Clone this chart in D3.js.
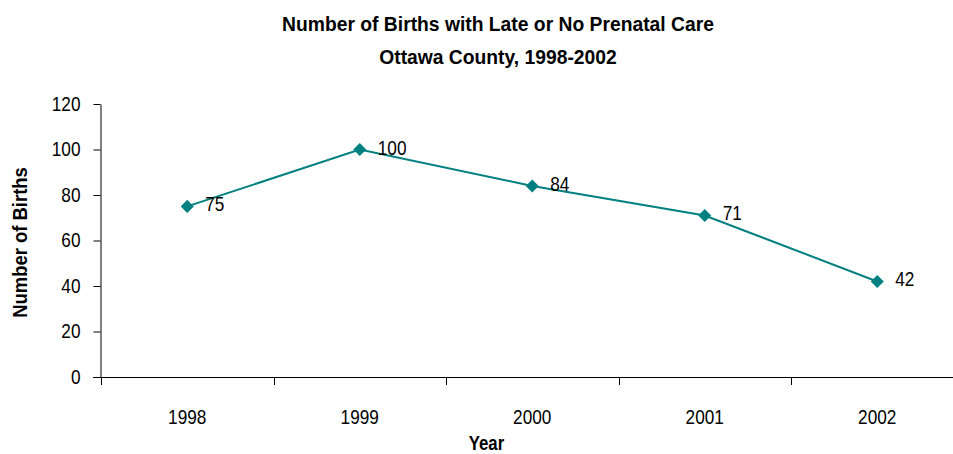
<!DOCTYPE html>
<html><head><meta charset="utf-8">
<script src="https://cdn.jsdelivr.net/npm/d3@7"></script>
<style>
body{margin:0;background:#fff;}
text{font-family:"Liberation Sans",Arial,sans-serif;fill:#000;}
</style></head>
<body><svg id="c" width="953" height="454"></svg>
<script>
const years = ["1998","1999","2000","2001","2002"];
const births = [75,100,84,71,42];
const yTicks = [0,20,40,60,80,100,120];
const titleLines = ["Number of Births with Late or No Prenatal Care","Ottawa County, 1998-2002"];

const svg = d3.select("#c");
const FONT = '"Liberation Sans",Arial,sans-serif';
const NARROW = 0.82;
const x = d3.scaleBand().domain(years).range([101,963.5]);
const y = d3.scaleLinear().domain([0,120]).range([377,104]);
const color = "#008080";

function placeScaled(sel, px, py, s){
  sel.attr("x",0).attr("y",0)
     .attr("transform",(d,i)=>`translate(${typeof px==="function"?px(d,i):px},${typeof py==="function"?py(d,i):py}) scale(${s},1)`);
}

// y axis
const gy = svg.append("g").attr("transform","translate(100.5,0)")
  .call(d3.axisLeft(y).tickValues(yTicks).tickSize(7).tickSizeOuter(0));
gy.select(".domain").attr("stroke","#000");
gy.selectAll(".tick line").attr("stroke","#000");
gy.selectAll(".tick text").attr("font-size",21).attr("font-family",FONT)
  .attr("dy",null).attr("x",0)
  .attr("transform",`translate(-20,6) scale(${NARROW},1)`);

// x axis
const gx = svg.append("g").attr("transform","translate(0,377.5)")
  .call(d3.axisBottom(x).tickSize(0).tickSizeOuter(0));
gx.select(".domain").attr("d","M93,0H953").attr("stroke","#000");
gx.selectAll(".tick text").attr("font-size",21).attr("font-family",FONT)
  .attr("dy",null).attr("y",0)
  .attr("transform",`translate(0,46) scale(${NARROW},1)`);
svg.append("g").selectAll("line").data(d3.range(years.length+1)).join("line")
  .attr("x1",i=>Math.round(101+i*x.step())+0.5).attr("x2",i=>Math.round(101+i*x.step())+0.5)
  .attr("y1",377).attr("y2",385).attr("stroke","#000");

const cx = d => x(d)+x.bandwidth()/2;
svg.append("path").datum(births)
  .attr("d",d3.line().x((d,i)=>cx(years[i])).y(d=>y(d)))
  .attr("fill","none").attr("stroke",color).attr("stroke-width",2);

svg.append("g").selectAll("path").data(births).join("path")
  .attr("d",d3.symbol(d3.symbolSquare,85))
  .attr("transform",(d,i)=>`translate(${cx(years[i])},${y(d)}) rotate(45)`)
  .attr("fill",color);

svg.append("g").selectAll("text").data(births).join("text")
  .attr("font-size",21).text(d=>d)
  .call(placeScaled,(d,i)=>cx(years[i])+18,d=>y(d)+5,NARROW);

svg.append("g").selectAll("text").data(titleLines).join("text")
  .attr("x",498).attr("y",(d,i)=>31+i*33).attr("text-anchor","middle")
  .attr("font-size",19.3).attr("font-weight","bold").text(d=>d);

svg.append("text").attr("text-anchor","middle")
  .attr("font-size",20.5).attr("font-weight","bold").text("Year")
  .call(placeScaled,486.5,450,0.82);
svg.append("text").attr("transform","translate(27,242.5) rotate(-90) scale(0.9,1)").attr("text-anchor","middle")
  .attr("font-size",20.5).attr("font-weight","bold").text("Number of Births");
</script></body></html>
